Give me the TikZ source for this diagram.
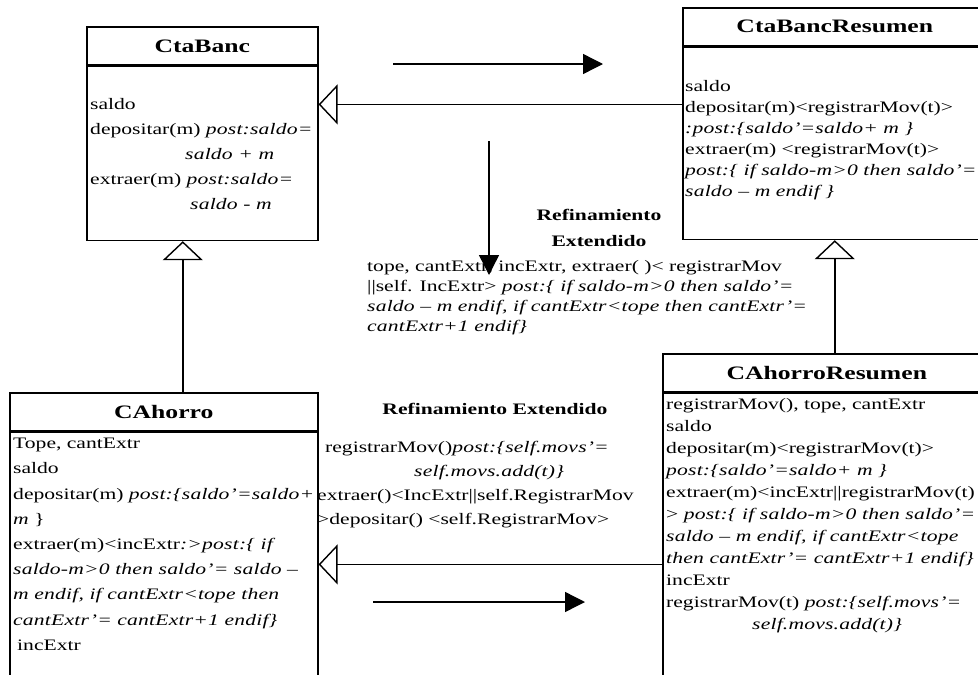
\documentclass[tikz,border=0pt]{standalone}
\usepackage{fontspec}
\setmainfont{Liberation Serif}[FakeStretch=1.35, ItalicFeatures={LetterSpace=1.2}]
\usetikzlibrary{arrows.meta,positioning}
\newcommand{\cond}[1]{\textit{#1}}
\tikzset{
  hdr/.style={draw, line width=1.6pt, minimum height=38pt, inner sep=0pt,
    font=\fontsize{19}{23}\selectfont\bfseries},
  bodybox/.style={draw, line width=1.6pt, inner sep=0pt},
  lines/.style={align=left, inner sep=0pt, anchor=north west},
  inherit/.style={line width=1.4pt, -{Triangle[open, length=19pt, width=40pt]}},
  dirarrow/.style={line width=1.4pt, -{Triangle[length=20pt, width=20pt]}},
  refi/.style={font=\fontsize{16}{26}\selectfont\bfseries, align=center, inner sep=0pt}
}

\begin{document}
\begin{tikzpicture}[x=1pt, y=-1pt]
    \useasboundingbox (0,0) rectangle (978,675);
    \fill [white] (0,0) rectangle (978,675);
    \clip (0,0) rectangle (978,675);
    % class boxes
    \node [hdr, minimum width=231pt, anchor=north west] (ctabanc-h) at (86,26) {CtaBanc};
    \node [bodybox, minimum width=231pt, minimum height=174pt, anchor=north] (ctabanc-b) at (ctabanc-h.south) {};
    \node [hdr, minimum width=304pt, anchor=north west] (cbres-h) at (682,7) {CtaBancResumen};
    \node [bodybox, minimum width=304pt, minimum height=192pt, anchor=north] (cbres-b) at (cbres-h.south) {};
    \node [hdr, minimum width=308pt, anchor=north west] (cahorro-h) at (9,392) {CAhorro};
    \node [bodybox, minimum width=308pt, minimum height=300pt, anchor=north] (cahorro-b) at (cahorro-h.south) {};
    \node [hdr, minimum width=328pt, anchor=north west] (cares-h) at (662,353) {CAhorroResumen};
    \node [bodybox, minimum width=328pt, minimum height=300pt, anchor=north] (cares-b) at (cares-h.south) {};
    % class contents
    \node [lines, font=\fontsize{16}{25}\selectfont] (ctabanc-t) at (90,98)
      {saldo\\ depositar(m) \cond{post:saldo=}\\ \hspace*{95pt}\cond{saldo + m}\\
       extraer(m) \cond{post:saldo=}\\ \hspace*{100pt}\cond{saldo - m}};
    \node [lines, font=\fontsize{16}{21}\selectfont] (cbres-t) at (685,80)
      {saldo\\ depositar(m)<registrarMov(t)>\\ \cond{:post:\{saldo'=saldo+ m \}}\\
       extraer(m) <registrarMov(t)>\\ \cond{post:\{ if saldo-m>0 then saldo'=}\\
       \cond{saldo -- m endif \}}};
    \node [lines, font=\fontsize{16}{25.2}\selectfont] (cahorro-t) at (13,438)
      {Tope, cantExtr\\ saldo\\ depositar(m) \cond{post:\{saldo'=saldo+}\\ \cond{m} \}\\
       extraer(m)<incExtr\cond{:>post:\{ if}\\ \cond{saldo-m>0 then saldo'= saldo --}\\
       \cond{m endif, if cantExtr<tope then}\\ \cond{cantExtr'= cantExtr+1 endif\}}\\
       \hspace*{4pt}incExtr};
    \node [lines, font=\fontsize{16}{22}\selectfont] (cares-t) at (666,398)
      {registrarMov(), tope, cantExtr\\ saldo\\ depositar(m)<registrarMov(t)>\\
       \cond{post:\{saldo'=saldo+ m \}}\\ extraer(m)<incExtr||registrarMov(t)\\
       > \cond{post:\{ if saldo-m>0 then saldo'=}\\ \cond{saldo -- m endif, if cantExtr<tope}\\
       \cond{then cantExtr'= cantExtr+1 endif\}}\\ incExtr\\
       registrarMov(t) \cond{post:\{self.movs'=}\\ \hspace*{86pt}\cond{self.movs.add(t)\}}};
    % refinements
    \node [refi] (ref1) at (599,228) {Refinamiento\\Extendido};
    \node [lines, font=\fontsize{16}{20}\selectfont] (ref1-t) at (367,260)
      {tope, cantExtr, incExtr, extraer( )< registrarMov\\
       ||self. IncExtr> \cond{post:\{ if saldo-m>0 then saldo'=}\\
       \cond{saldo -- m endif, if cantExtr<tope then cantExtr'=}\\ \cond{cantExtr+1 endif\}}};
    \node [refi] (ref2) at (495,409) {Refinamiento Extendido};
    \node [lines, font=\fontsize{16}{24}\selectfont] (ref2-t) at (317,441)
      {\hspace*{8pt}registrarMov()\cond{post:\{self.movs'=}\\ \hspace*{97pt}\cond{self.movs.add(t)\}}\\
       extraer()<IncExtr||self.RegistrarMov\\ >depositar() <self.RegistrarMov>};
    % generalizations
    \coordinate (gen1) at ([yshift=39pt]cbres-b.west);
    \draw [inherit] (gen1) -- (gen1 -| ctabanc-b.east);
    \coordinate (gen2) at ([xshift=-19.5pt]ctabanc-b.south);
    \draw [inherit] (gen2 |- cahorro-h.north) -- (gen2);
    \draw [inherit] (cbres-b.south |- cares-h.north) -- (cbres-b.south);
    \coordinate (gen4) at ([yshift=-21pt]cares-b.west);
    \draw [inherit] (gen4) -- (gen4 -| cahorro-b.east);
    % direction of refinement
    \draw [dirarrow] (393,64) -- (603,64);
    \draw [dirarrow] (489,141) -- (489,275);
    \draw [dirarrow] (373,602) -- (585,602);
\end{tikzpicture}
\end{document}
